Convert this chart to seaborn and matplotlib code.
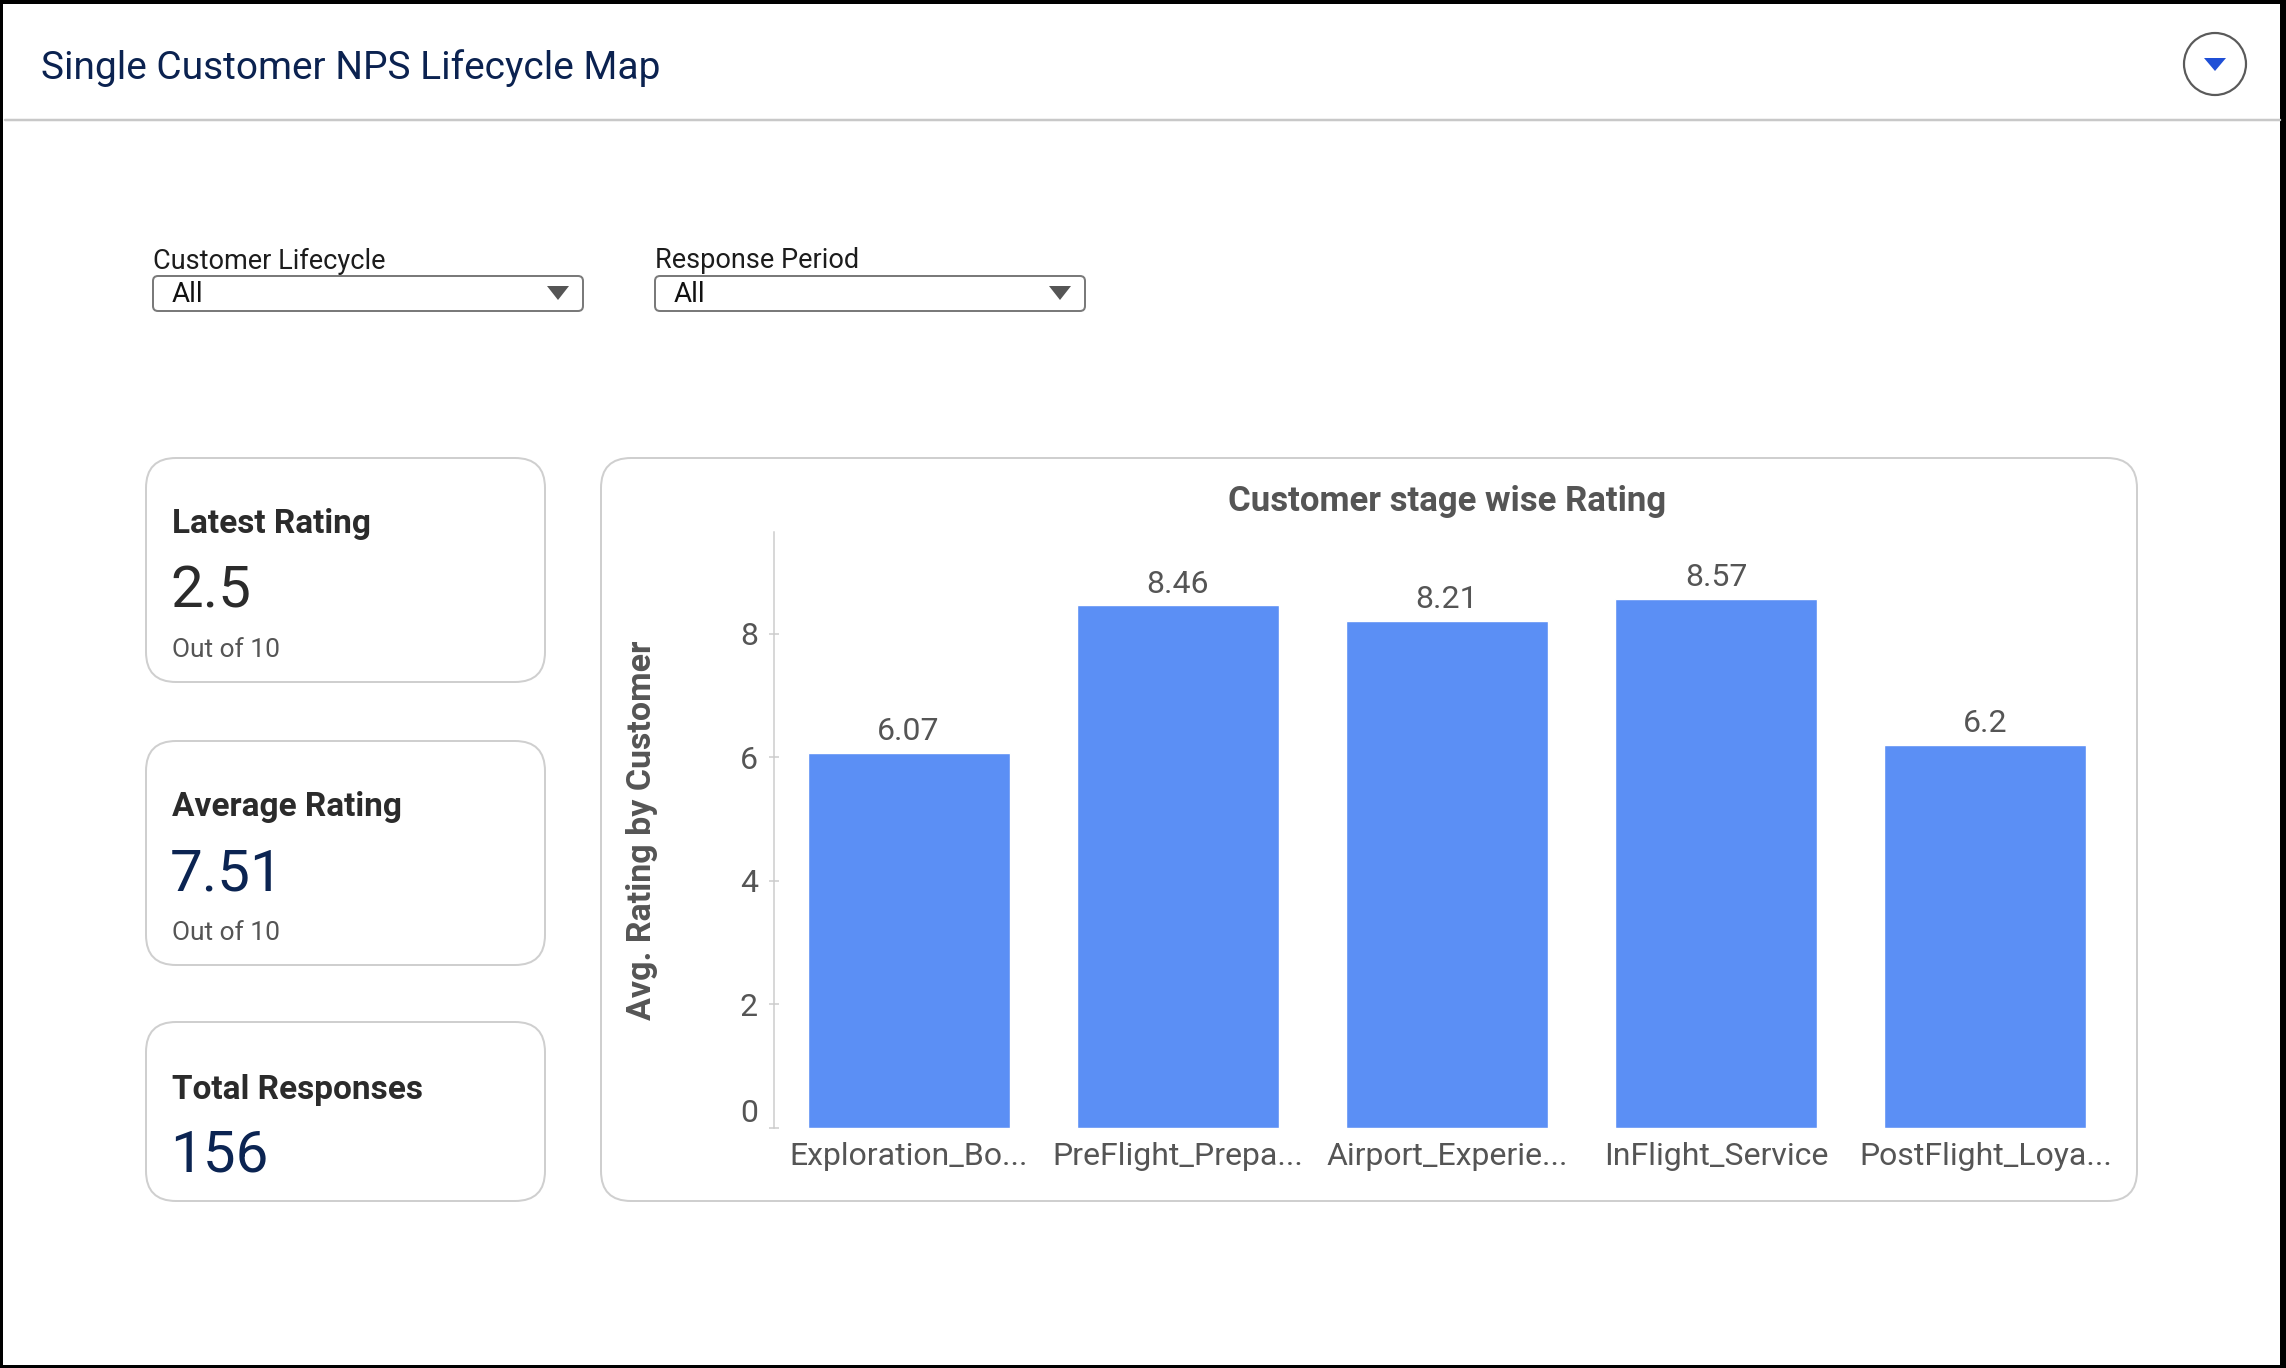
import matplotlib
matplotlib.use("Agg")
import matplotlib.pyplot as plt
import seaborn as sns
from matplotlib.patches import FancyBboxPatch, Circle, Polygon, Rectangle
from matplotlib.lines import Line2D

# ---------------- data ----------------
stages = ["Exploration_Bo...", "PreFlight_Prepa...", "Airport_Experie...",
          "InFlight_Service", "PostFlight_Loya..."]
ratings = [6.07, 8.46, 8.21, 8.57, 6.2]
yticks = [0, 2, 4, 6, 8]

kpi_titles = ["Latest Rating", "Average Rating", "Total Responses"]
kpi_values = ["2.5", "7.51", "156"]
kpi_subs = ["Out of 10", "Out of 10", ""]

filter_labels = ["Customer Lifecycle", "Response Period"]
filter_values = ["All", "All"]

dashboard_title = "Single Customer NPS Lifecycle Map"
chart_title = "Customer stage wise Rating"
y_label = "Avg. Rating by Customer"

# ---------------- style ----------------
sns.set_theme(style="white")
plt.rcParams["font.family"] = ["Roboto", "DejaVu Sans"]

W, H = 2286, 1368
DPI = 100
fig = plt.figure(figsize=(W / DPI, H / DPI), dpi=DPI)
fig.patch.set_facecolor("white")

# background axes in pixel coordinates
bg = fig.add_axes([0, 0, 1, 1])
bg.set_xlim(0, W)
bg.set_ylim(H, 0)
bg.axis("off")

PX = 72 / DPI  # points per pixel

# outer frame
bg.add_patch(Rectangle((0, 0), W, 4, color="black", lw=0))
bg.add_patch(Rectangle((W - 6, 0), 6, H, color="black", lw=0))
bg.add_patch(Rectangle((0, H - 3), W, 3, color="black", lw=0))
bg.add_patch(Rectangle((0, 0), 3, H, color="black", lw=0))

# header
bg.text(41, 68, dashboard_title, fontsize=28, color="#0b2250", va="center", ha="left")
bg.add_line(Line2D([5, W - 6], [120, 120], color="#c8c8c8", lw=2.5 * PX))
bg.add_patch(Circle((2215, 64), 31, fill=False, ec="#5a5a5a", lw=2.2 * PX))
bg.add_patch(Polygon([[2204, 58], [2226, 58], [2215, 71]], closed=True, color="#1f4fd6", lw=0))

# filters
fx = [153, 655]
for i in range(2):
    x0 = fx[i]
    bg.text(x0, 261, filter_labels[i], fontsize=19.5, color="#1c1c1c", va="center", ha="left")
    bg.add_patch(FancyBboxPatch((x0, 276), 430, 35, boxstyle="round,pad=0,rounding_size=5",
                                fc="white", ec="#7a7a7a", lw=2 * PX))
    bg.text(x0 + 19, 295, filter_values[i], fontsize=20, color="#111111", va="center", ha="left")
    cx = x0 + 405
    bg.add_patch(Polygon([[cx - 11, 286], [cx + 11, 286], [cx, 300]], closed=True, color="#555555", lw=0))

# KPI cards
card_tops = [458, 741, 1022]
card_h = [224, 224, 179]
head_y = [524, 807, 1090]
val_y = [592, 875, 1156]
sub_y = [650, 933, None]
val_colors = ["#2b2b2b", "#0b2452", "#0b2452"]
for i in range(3):
    bg.add_patch(FancyBboxPatch((146, card_tops[i]), 399, card_h[i],
                                boxstyle="round,pad=0,rounding_size=30",
                                fc="white", ec="#cfcfcf", lw=2 * PX))
    bg.text(172, head_y[i], kpi_titles[i], fontsize=24, fontweight="bold",
            color="#2b2b2b", va="center", ha="left")
    bg.text(170, val_y[i], kpi_values[i], fontsize=42, color=val_colors[i],
            va="center", ha="left")
    if kpi_subs[i]:
        bg.text(172, sub_y[i], kpi_subs[i], fontsize=19, color="#555555",
                va="center", ha="left")

# chart card
bg.add_patch(FancyBboxPatch((601, 458), 1536, 743, boxstyle="round,pad=0,rounding_size=30",
                            fc="white", ec="#cfcfcf", lw=2 * PX))
bg.text(1447, 502, chart_title, fontsize=25, fontweight="bold", color="#555555",
        va="center", ha="center")

# bar chart axes
ax_l, ax_r, ax_t, ax_b = 774, 2120, 532, 1128
ax = fig.add_axes([ax_l / W, 1 - ax_b / H, (ax_r - ax_l) / W, (ax_b - ax_t) / H])
ax.set_facecolor("none")
sns.barplot(x=stages, y=ratings, color="#5b8ff5", saturation=1, width=0.75, ax=ax)
ax.set_xlim(-0.5, len(stages) - 0.5)
ax.set_ylim(0, 9.65)
ax.set_yticks(yticks)
ax.set_yticklabels([str(t) for t in yticks])
for c in ax.containers:
    ax.bar_label(c, labels=[f"{v:g}" for v in ratings], padding=5, fontsize=23, color="#555555")
for s in ["top", "right", "bottom"]:
    ax.spines[s].set_visible(False)
ax.spines["left"].set_color("#cccccc")
ax.spines["left"].set_linewidth(1.5 * PX)
ax.tick_params(axis="y", direction="inout", length=7, width=1.5 * PX, color="#cccccc",
               labelsize=23, labelcolor="#555555", pad=8, left=True)
ax.tick_params(axis="x", length=0, labelsize=23, labelcolor="#555555", pad=10)
ax.get_yticklabels()[0].set_va("bottom")
ax.set_ylabel(y_label, fontsize=24.5, fontweight="bold", color="#555555")
ax.yaxis.set_label_coords(-0.086, 0.5)
ax.set_xlabel("")
ax.grid(False)

fig.savefig("out.png", dpi=DPI, facecolor="white")
